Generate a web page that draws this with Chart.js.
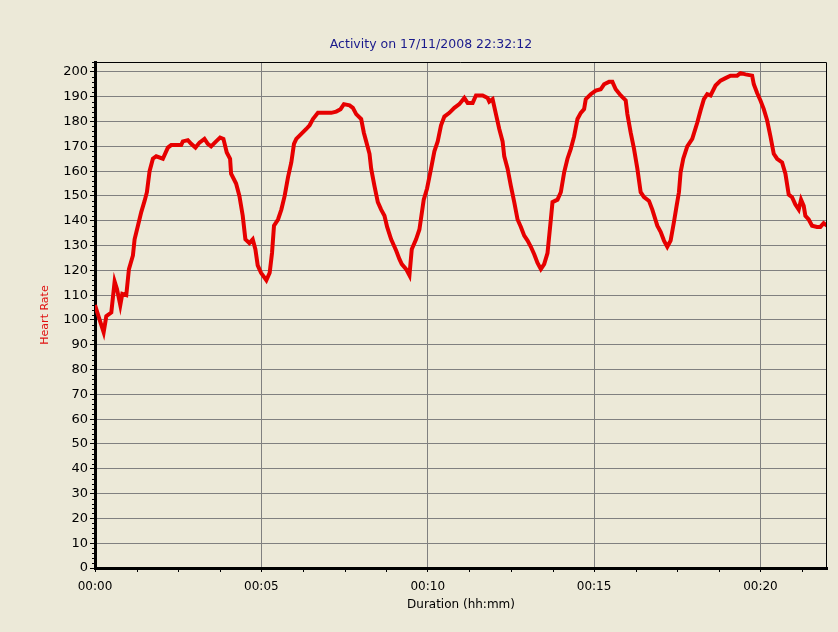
<!DOCTYPE html>
<html>
<head>
<meta charset="utf-8">
<script src="https://cdn.jsdelivr.net/npm/chart.js@4.4.1/dist/chart.umd.min.js"></script>
<style>
html,body{margin:0;padding:0;background:#ECE9D8;}
canvas{display:block;}
</style>
</head>
<body>
<canvas id="c" width="838" height="632"></canvas>
<script>
// Duration in minutes
const minutes = [0,0.14,0.26,0.34,0.49,0.59,0.66,0.76,0.82,0.94,1.02,1.14,1.19,1.29,1.39,1.49,1.56,1.64,1.74,1.84,2.04,2.19,2.29,2.59,2.64,2.79,2.89,3.02,3.14,3.29,3.39,3.49,3.64,3.76,3.86,3.96,4.06,4.09,4.24,4.34,4.44,4.52,4.64,4.74,4.82,4.89,4.99,5.15,5.25,5.32,5.38,5.5,5.6,5.7,5.8,5.9,5.98,6.05,6.2,6.35,6.45,6.55,6.7,6.95,7.1,7.25,7.38,7.48,7.65,7.75,7.85,8.0,8.08,8.15,8.25,8.3,8.4,8.5,8.6,8.7,8.78,8.9,9.05,9.15,9.22,9.35,9.45,9.52,9.65,9.75,9.88,9.98,10.1,10.2,10.3,10.4,10.5,10.65,10.8,10.95,11.1,11.2,11.35,11.45,11.65,11.8,11.85,11.95,12.05,12.15,12.25,12.3,12.4,12.5,12.6,12.7,12.8,12.9,13.0,13.1,13.2,13.3,13.4,13.5,13.6,13.7,13.75,13.9,14.0,14.1,14.2,14.3,14.4,14.5,14.6,14.7,14.75,14.9,15.05,15.2,15.3,15.45,15.55,15.65,15.8,15.95,16.0,16.1,16.2,16.3,16.4,16.5,16.65,16.75,16.9,17.0,17.1,17.2,17.3,17.4,17.48,17.55,17.6,17.68,17.8,17.95,18.1,18.2,18.3,18.4,18.5,18.65,18.8,18.95,19.1,19.3,19.4,19.55,19.75,19.8,19.9,20.0,20.1,20.2,20.3,20.4,20.5,20.65,20.75,20.85,20.95,21.05,21.15,21.22,21.3,21.35,21.45,21.55,21.7,21.8,21.9,22.0];
// Heart rate (bpm)
const heartRate = [106,100,95,101.5,103,115.5,112.5,106,110.5,110,120.5,126,132.5,138,143.5,148,151.5,160,165,166,165,169.5,170.5,170.5,172,172.5,171,169.5,171.5,173,171,170,172,173.5,173,167.5,165,159,155,150,142,132.5,131,132.5,128.5,122,119,116,119,127,138,140.5,144.5,150,157.5,163.5,171,173,175,177,178.5,181,183.5,183.5,183.5,184,185,187,186.5,185.5,183,181,175.5,172,167,161,154,147.5,144.5,142,137.5,132.5,128,124.5,122.5,120.5,118,128.5,132.5,136.5,148.5,153,161,168,172,178.5,182,183.5,185.5,187,189.5,187.5,187.5,190.5,190.5,189.5,188,189,183,177,172,166,161,154,147.5,140.5,137.5,134,132,129.5,126.5,123,120.5,122.5,127,140.5,147.5,148.5,151.5,159.5,165,169,174,181,183.5,185,189,191,192.5,193,195,196,196,193,190.5,188.5,183,175.5,169,161,151.5,149.5,148,144.5,138,135.5,132,129.5,132,139.5,146,151.5,159.5,165,170,173,179.5,184.5,189,191,190.5,194.5,196.5,197.5,198.5,198.5,199.5,199,198.5,195,191.5,188.5,185,180.5,174,167,165,163.5,159,150.5,149.5,146.5,144.5,148.5,146,142,140.5,138,137.5,137.5,139,138];
// Axis ranges / ticks
const xMin = 0, xMax = 22, xStep = 5, xMinorStep = 1.25;
const yMin = 0, yMax = 204, yStep = 10, yMinorStep = 2;
const titleText = 'Activity on 17/11/2008 22:32:12';
const yTitle = 'Heart Rate';
const xTitle = 'Duration (hh:mm)';

const points = minutes.map((m, i) => ({x: m, y: heartRate[i]}));

const frame = {
  id: 'frame',
  afterDraw(chart) {
    const {ctx, chartArea: a, scales: {x, y}} = chart;
    ctx.save();
    ctx.strokeStyle = '#000';
    ctx.lineWidth = 1;
    ctx.beginPath();
    ctx.moveTo(a.left, a.top + 0.5);
    ctx.lineTo(a.right - 0.5, a.top + 0.5);
    ctx.lineTo(a.right - 0.5, a.bottom);
    ctx.stroke();
    // minor ticks
    ctx.beginPath();
    for (let v = xMinorStep; v <= xMax + 1e-9; v += xMinorStep) {
      if (Math.abs(v / xStep - Math.round(v / xStep)) < 1e-6) continue;
      const px = Math.round(x.getPixelForValue(v)) + 0.5;
      ctx.moveTo(px, a.bottom);
      ctx.lineTo(px, a.bottom + 4);
    }
    for (let v = yMin + yMinorStep; v <= yMax; v += yMinorStep) {
      if (v % yStep === 0) continue;
      const py = Math.round(y.getPixelForValue(v)) + 0.5;
      ctx.moveTo(a.left - 3, py);
      ctx.lineTo(a.left, py);
    }
    ctx.stroke();
    ctx.restore();
  }
};

new Chart(document.getElementById('c'), {
  type: 'line',
  data: {
    datasets: [{
      data: points,
      borderColor: '#e60000',
      borderWidth: 4,
      pointRadius: 0,
      tension: 0,
      fill: false
    }]
  },
  options: {
    responsive: false,
    animation: false,
    layout: {padding: {left: 35, right: 11, top: 0, bottom: 0}},
    plugins: {
      legend: {display: false},
      tooltip: {enabled: false},
      title: {
        display: true,
        text: titleText,
        color: '#1a1a8c',
        font: {family: 'DejaVu Sans', size: 12.5, weight: 'normal'},
        padding: {top: 37, bottom: 10}
      }
    },
    scales: {
      x: {
        type: 'linear',
        min: xMin, max: xMax,
        afterFit: s => { s.height = 64; },
        ticks: {
          stepSize: xStep,
          includeBounds: false,
          autoSkip: false,
          maxRotation: 0,
          color: '#000',
          padding: 8,
          font: {family: 'DejaVu Sans', size: 12},
          callback: v => '00:' + String(v).padStart(2, '0')
        },
        grid: {color: '#808080', lineWidth: 1, tickLength: 4, tickColor: '#000'},
        border: {color: '#000', width: 3},
        title: {
          display: true, text: xTitle, color: '#000',
          font: {family: 'DejaVu Sans', size: 12},
          padding: {top: 0, bottom: 20}
        }
      },
      y: {
        min: yMin, max: yMax,
        afterFit: s => { s.width = 60; },
        ticks: {
          stepSize: yStep,
          includeBounds: false,
          color: '#000',
          padding: 2,
          font: {family: 'DejaVu Sans', size: 13}
        },
        grid: {color: '#808080', lineWidth: 1, tickLength: 5, tickColor: '#000'},
        border: {color: '#000', width: 3},
        title: {
          display: true, text: yTitle, color: '#e01010',
          font: {family: 'DejaVu Sans', size: 11},
          padding: {top: 4, bottom: 0}
        }
      }
    }
  },
  plugins: [frame]
});
</script>
</body>
</html>
